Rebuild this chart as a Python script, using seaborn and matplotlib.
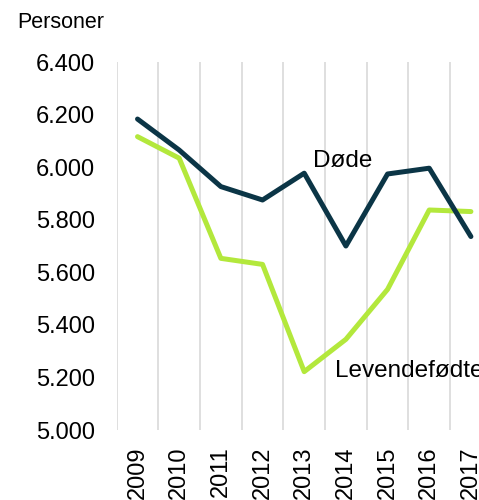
#!/usr/bin/env python3
import matplotlib
matplotlib.use('Agg')
import matplotlib.pyplot as plt
import matplotlib.ticker as mticker
import pandas as pd
import seaborn as sns

sns.set_theme(style='white')
plt.rcParams['font.family'] = ['Liberation Sans', 'DejaVu Sans']
plt.rcParams['text.color'] = 'black'

years = [2009, 2010, 2011, 2012, 2013, 2014, 2015, 2016, 2017]
doede = [6183, 6065, 5926, 5875, 5977, 5700, 5974, 5996, 5736]
levendefoedte = [6116, 6034, 5653, 5630, 5222, 5345, 5535, 5837, 5831]
series_names = ['Levendefødte', 'Døde']
colors = {'Levendefødte': '#b3e83c', 'Døde': '#0b3546'}

df = pd.concat([
    pd.DataFrame({'pos': range(len(years)), 'personer': levendefoedte, 'serie': 'Levendefødte'}),
    pd.DataFrame({'pos': range(len(years)), 'personer': doede, 'serie': 'Døde'}),
])

fig = plt.figure(figsize=(4.79, 5.0), dpi=100)
ax = fig.add_axes([0.2436, 0.14, 0.783, 0.736])

sns.lineplot(data=df, x='pos', y='personer', hue='serie', hue_order=series_names,
             palette=colors, linewidth=3.6, legend=False, ax=ax)

ax.set_xlim(-0.5, len(years) - 0.5)
ax.set_ylim(5000, 6400)
ax.set_yticks(range(5000, 6401, 200))
ax.yaxis.set_major_formatter(mticker.FuncFormatter(lambda v, p: f'{int(v):,}'.replace(',', '.')))
ax.set_xticks(range(len(years)))
ax.set_xticklabels([str(y) for y in years], rotation=90)
ax.set_xticks([i - 0.5 for i in range(len(years) + 1)], minor=True)
ax.grid(which='minor', axis='x', color='#d9d9d9', linewidth=1.2)
ax.grid(which='major', visible=False)
ax.tick_params(axis='both', which='both', length=0, labelsize=17, colors='black')
ax.tick_params(axis='y', pad=15.5)
ax.tick_params(axis='x', pad=12)
for s in ax.spines.values():
    s.set_visible(False)
ax.set_xlabel('')
ax.set_ylabel('')

ax.text(4.21, 6024, 'Døde', fontsize=17.5, va='center', ha='left')
ax.text(4.74, 5225, 'Levendefødte', fontsize=17.5, va='center', ha='left', clip_on=False)
fig.text(17 / 479, 1 - 23 / 500, 'Personer', fontsize=15.5, va='center', ha='left')

fig.savefig('out.png', dpi=100)
